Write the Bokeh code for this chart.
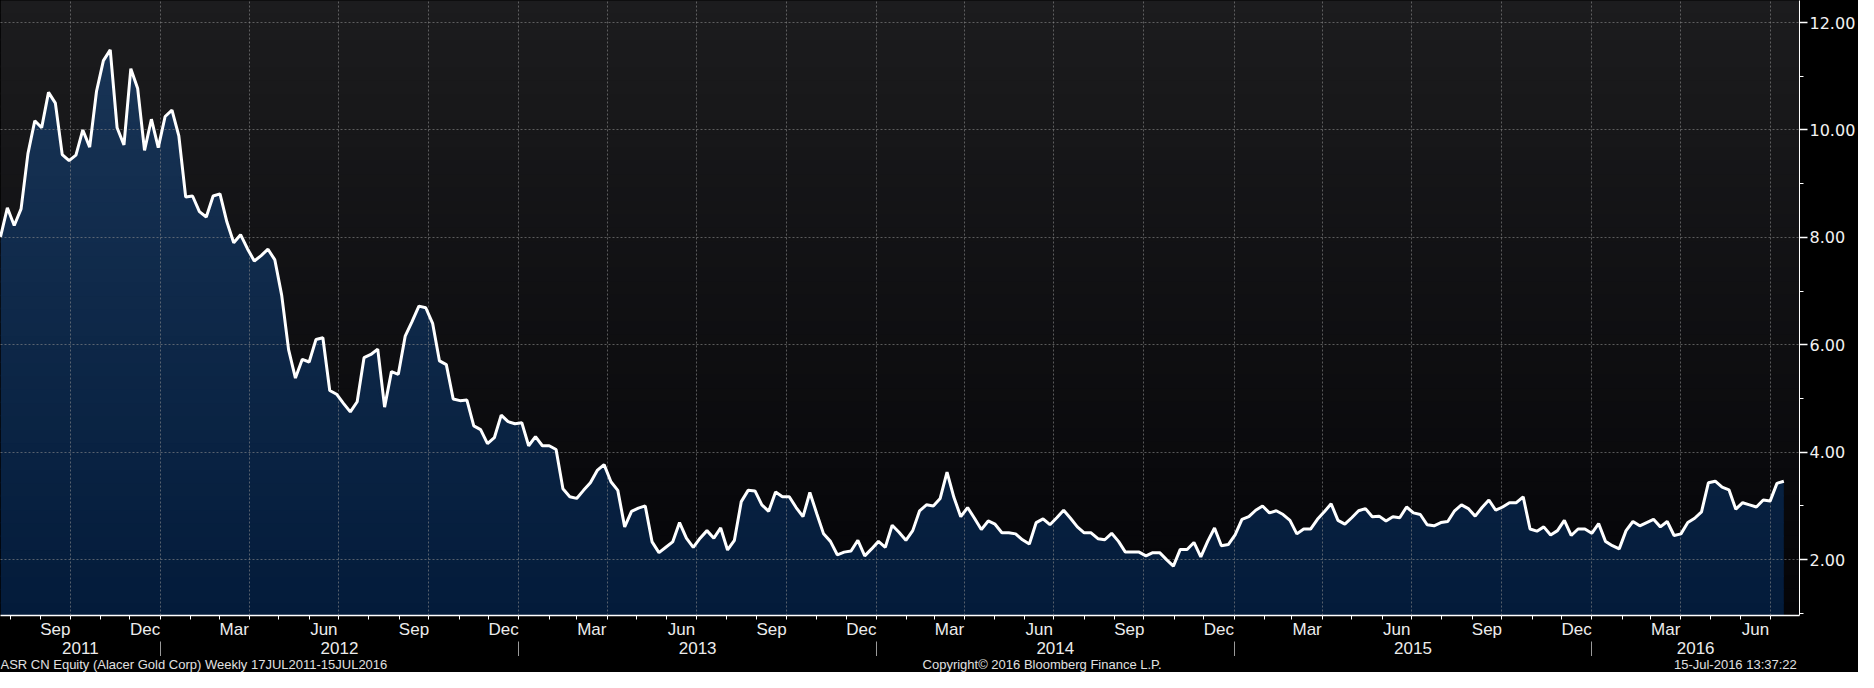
import numpy as np
import pandas as pd
from bokeh.plotting import figure
from bokeh.models import Range1d, LinearAxis, FixedTicker, NumeralTickFormatter
from bokeh.layouts import column
from bokeh.embed import file_html
from bokeh.resources import INLINE
from bokeh.core.properties import value

# ---------------- data (weekly closes) ----------------
START = "2011-07-22"
close_2011h2_2012h1 = [8.01, 8.55, 8.22, 8.53, 9.56, 10.17, 10.04, 10.70, 10.50, 9.54,
                       9.43, 9.53, 10.00, 9.68, 10.72, 11.29, 11.49, 10.04, 9.72, 11.14,
                       10.77, 9.62, 10.20, 9.67, 10.25, 10.37, 9.89, 8.75, 8.77, 8.48,
                       8.38, 8.77, 8.81, 8.29, 7.90, 8.05, 7.79, 7.56, 7.66, 7.78,
                       7.58, 6.92, 5.91, 5.38, 5.73, 5.68, 6.10]
close_2012h2_2013h1 = [6.13, 5.15, 5.08, 4.91, 4.75, 4.94, 5.76, 5.82, 5.92, 4.84,
                       5.50, 5.45, 6.16, 6.43, 6.72, 6.69, 6.40, 5.70, 5.63, 4.99,
                       4.96, 4.97, 4.49, 4.42, 4.16, 4.27, 4.69, 4.57, 4.53, 4.55,
                       4.12, 4.29, 4.12, 4.12, 4.05, 3.32, 3.17, 3.14, 3.29, 3.43,
                       3.66, 3.77, 3.45, 3.29]
close_2013 = [2.61, 2.90, 2.96, 3.00, 2.33, 2.13, 2.23, 2.33, 2.69, 2.40,
              2.23, 2.40, 2.54, 2.40, 2.59, 2.18, 2.36, 3.08, 3.29, 3.28,
              3.02, 2.90, 3.26, 3.17, 3.17, 2.97, 2.80, 3.25, 2.86, 2.48,
              2.34, 2.09, 2.14, 2.16, 2.36, 2.07, 2.20, 2.34, 2.23, 2.64,
              2.51, 2.36, 2.54, 2.91, 3.02]
close_2014 = [3.00, 3.14, 3.63, 3.16, 2.80, 2.97, 2.77, 2.56, 2.72, 2.66,
              2.50, 2.50, 2.48, 2.37, 2.29, 2.69, 2.76, 2.65, 2.78, 2.92,
              2.77, 2.61, 2.50, 2.50, 2.39, 2.37, 2.49, 2.34, 2.14, 2.14,
              2.14, 2.07, 2.13, 2.13, 2.00, 1.88, 2.19, 2.19, 2.32, 2.05,
              2.34, 2.59, 2.26, 2.28, 2.46]
close_2015 = [2.75, 2.80, 2.92, 3.00, 2.87, 2.91, 2.84, 2.73, 2.48, 2.57,
              2.57, 2.75, 2.89, 3.04, 2.73, 2.66, 2.78, 2.91, 2.95, 2.80,
              2.81, 2.72, 2.80, 2.78, 2.98, 2.87, 2.84, 2.65, 2.63, 2.69,
              2.71, 2.91, 3.02, 2.95, 2.81, 2.97, 3.11, 2.92, 2.98, 3.06,
              3.06, 3.17, 2.57, 2.53, 2.61, 2.46]
close_2016 = [2.54, 2.73, 2.45, 2.57, 2.57, 2.49, 2.67, 2.34, 2.26, 2.20,
              2.54, 2.71, 2.63, 2.69, 2.75, 2.61, 2.71, 2.45, 2.48, 2.69,
              2.77, 2.89, 3.43, 3.46, 3.35, 3.30, 2.94, 3.06, 3.02, 2.98,
              3.11, 3.09, 3.42, 3.46]

month_names = ["Mar", "Jun", "Sep", "Dec"]
label_months = [3, 6, 9, 12]
years = [2011, 2012, 2013, 2014, 2015, 2016]
y_major = [2, 4, 6, 8, 10, 12]
y_minor = [1, 3, 5, 7, 9, 11]

footer_left = "ASR CN Equity (Alacer Gold Corp)  Weekly 17JUL2011-15JUL2016"
footer_mid = "Copyright\u00a9 2016 Bloomberg Finance L.P."
footer_right = "15-Jul-2016 13:37:22"

prices = np.array(close_2011h2_2012h1 + close_2012h2_2013h1 + close_2013 +
                  close_2014 + close_2015 + close_2016, dtype=float)
dates = pd.date_range(START, periods=len(prices), freq="7D")


def ms(ts):
    return int(pd.Timestamp(ts).value // 10**6)


x_start = pd.Timestamp(START)
x_end = x_start + pd.Timedelta(days=1836)
Y_LO, Y_HI = 0.96, 12.41

# tick positions
month_starts = pd.date_range("2011-08-01", "2016-08-01", freq="MS")
quarter_starts = [d for d in month_starts if d.month in (1, 4, 7, 10)]
mid_ticks, mid_labels = [], []
for d in pd.date_range("2011-09-01", "2016-06-01", freq="MS"):
    if d.month in label_months:
        nxt = d + pd.offsets.MonthBegin(1)
        mid = d + (nxt - d) / 2
        mid_ticks.append(ms(mid))
        mid_labels.append(month_names[label_months.index(d.month)])
jan_firsts = [pd.Timestamp(f"{y}-01-01") for y in years[1:]]
year_ticks = []
for y in years:
    a = max(pd.Timestamp(f"{y}-01-01"), x_start)
    b = min(pd.Timestamp(f"{y + 1}-01-01"), x_end)
    year_ticks.append(ms(a + (b - a) / 2))


def lerp(c1, c2, t):
    return "#%02x%02x%02x" % tuple(int(round(a + (b - a) * t)) for a, b in zip(c1, c2))


W = 1858
p = figure(width=W, height=656, x_range=Range1d(ms(x_start), ms(x_end)),
           y_range=Range1d(Y_LO, Y_HI), x_axis_location=None, y_axis_location=None,
           toolbar_location=None, output_backend="svg", min_border=0,
           background_fill_color="black", border_fill_color="black",
           outline_line_color=None)

# background gradient of the plotting frame
nb = 46
edges = np.linspace(Y_LO, Y_HI, nb + 1)
mids = (edges[:-1] + edges[1:]) / 2
tt = (mids - Y_LO) / (Y_HI - Y_LO)
bg_cols = [lerp((4, 4, 7), (28, 28, 30), t) for t in tt]
p.hstrip(y0=edges[:-1], y1=edges[1:] + 0.03, fill_color=bg_cols, line_color=None,
         level="image")

# area under the line, vertical gradient
area_lo, area_hi = (3, 27, 58), (26, 54, 88)
for k in range(nb):
    top = np.minimum(prices, edges[k + 1])
    bot = np.minimum(prices, (edges[k] - 0.03) if k > 0 else Y_LO - 1)
    if np.all(top <= bot):
        continue
    p.varea(x=dates, y1=bot, y2=top, fill_color=lerp(area_lo, area_hi, tt[k]))

# grid
p.xgrid.ticker = FixedTicker(ticks=[ms(d) for d in quarter_starts])
p.ygrid.ticker = FixedTicker(ticks=y_major)
for g in (p.xgrid, p.ygrid):
    g.grid_line_color = "#8c8c8c"
    g.grid_line_alpha = 0.6
    g.grid_line_dash = "2 2"
    g.grid_line_width = 1
    g.level = "annotation"

p.line(dates, prices, line_color="white", line_width=3, level="overlay")

# right price axis
yax = LinearAxis(ticker=FixedTicker(ticks=y_major, minor_ticks=y_minor),
                 formatter=NumeralTickFormatter(format="0.00"),
                 major_tick_out=8, major_tick_in=0, minor_tick_out=4, minor_tick_in=0,
                 axis_line_color="white", major_tick_line_color="white",
                 major_tick_line_width=1.5,
                 minor_tick_line_color="white", major_label_standoff=2,
                 major_label_text_color="#f2f2f2",
                 major_label_text_font="DejaVu Sans",
                 major_label_text_font_size="16px")
p.add_layout(yax, "right")

# month axis
max_ = LinearAxis(ticker=FixedTicker(ticks=mid_ticks, minor_ticks=[ms(d) for d in month_starts]),
                  major_label_overrides={t: l for t, l in zip(mid_ticks, mid_labels)},
                  major_tick_out=0, major_tick_in=0, minor_tick_out=4, minor_tick_in=0,
                  axis_line_color="white", axis_line_width=1.5,
                  minor_tick_line_color="white", major_label_standoff=0,
                  major_label_text_color="#ececec",
                  major_label_text_font="Liberation Sans",
                  major_label_text_font_size="17px")
p.add_layout(max_, "below")

# year axis (separators as minor ticks, labels pulled back up over them)
yrax = LinearAxis(ticker=FixedTicker(ticks=year_ticks, minor_ticks=[ms(d) for d in jan_firsts]),
                  major_label_overrides={t: str(y) for t, y in zip(year_ticks, years)},
                  major_tick_out=0, major_tick_in=0, minor_tick_out=21, minor_tick_in=0,
                  axis_line_color=None, minor_tick_line_color="#9a9a9a",
                  major_label_standoff=-21,
                  major_label_text_color="#ececec",
                  major_label_text_font="Liberation Sans",
                  major_label_text_font_size="17px")
p.add_layout(yrax, "below")

# footer
f = figure(width=W, height=16, x_range=Range1d(0, 1), y_range=Range1d(0, 1),
           x_axis_location=None, y_axis_location=None, toolbar_location=None,
           output_backend="svg", min_border=0, background_fill_color="black",
           border_fill_color="black", outline_line_color=None)
f.xgrid.visible = False
f.ygrid.visible = False
f.text(x=[0.0], y=[0.5], text=[footer_left], text_align="left", text_baseline="middle",
       text_color="#e0e0e0", text_font=value("Liberation Sans"), text_font_size="13px")
f.text(x=[0.579], y=[0.5], text=[footer_mid], text_align="center", text_baseline="middle",
       text_color="#e0e0e0", text_font=value("Liberation Sans"), text_font_size="13px")
f.text(x=[0.9985], y=[0.5], text=[footer_right], text_align="right", text_baseline="middle",
       text_color="#e0e0e0", text_font=value("Liberation Sans"), text_font_size="13px")

layout = column(p, f, spacing=0, styles={"background-color": "black"})
open("out.html", "w").write(file_html(layout, INLINE))
